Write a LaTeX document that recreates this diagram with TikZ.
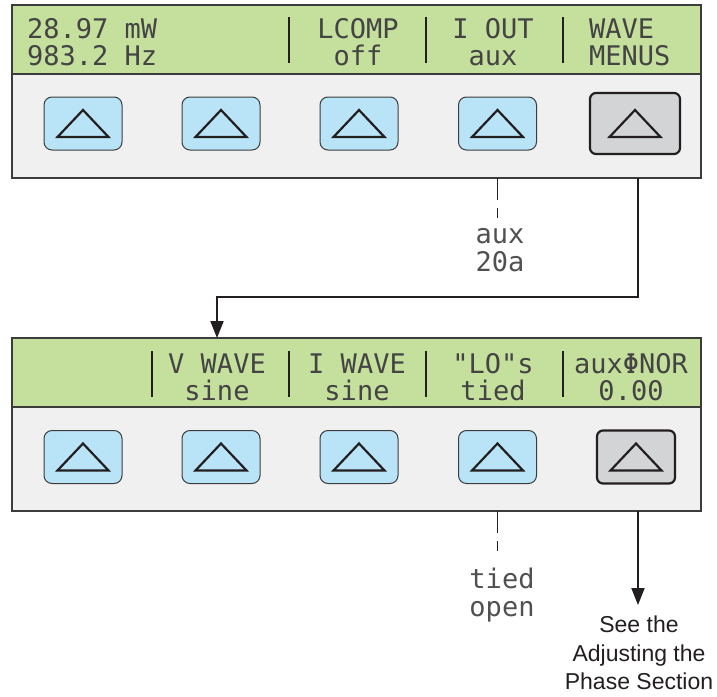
\documentclass[tikz,border=0pt]{standalone}
\usepackage{fontspec}
\newfontfamily\lcdfont{DejaVu Sans Mono}
\newfontfamily\labelfont{Liberation Sans}
\usetikzlibrary{arrows.meta,calc}
\definecolor{lcdgreen}{HTML}{C5DF9C}
\definecolor{panelbg}{HTML}{F0F0F0}
\definecolor{keyblue}{HTML}{B9E4F8}
\definecolor{keygray}{HTML}{D3D4D6}
\definecolor{edge}{HTML}{3C3C3C}
\definecolor{ink}{HTML}{231F20}
\definecolor{lcdink}{HTML}{444444}
\definecolor{subink}{HTML}{505050}
\begin{document}
\begin{tikzpicture}[x=1pt,y=-1pt,line join=miter,
  panel/.style={draw=edge,line width=1.6pt,fill=panelbg,minimum width=689pt,minimum height=173pt,inner sep=0pt,outer sep=0pt,anchor=north west},
  lcd/.style={draw=edge,line width=1.6pt,fill=lcdgreen,minimum width=689pt,minimum height=69pt,inner sep=0pt,outer sep=0pt,anchor=north west},
  key/.style={draw=edge,line width=1pt,fill=keyblue,rounded corners=8pt,minimum width=78pt,minimum height=53pt,inner sep=0pt},
  selkey/.style={key,fill=keygray,draw=ink,line width=2.2pt,rounded corners=6pt},
  tri/.style={draw=ink,line width=2.2pt},
  divider/.style={draw=ink,line width=2.6pt},
  lcdtxt/.style={font=\lcdfont\fontsize{27}{29}\selectfont,text=lcdink,inner sep=0pt,anchor=base},
  subtxt/.style={lcdtxt,text=subink},
  conn/.style={draw=ink,line width=2pt},
  dashconn/.style={draw=ink,line width=1.3pt,dash pattern=on 22pt off 8pt on 10pt off 40pt},
  tip/.style={-{Triangle[length=17pt,width=13pt]}}
]
\useasboundingbox (0,0) rectangle (717,696);

% ---------- upper panel ----------
\node[panel] (p1) at (12,5) {};
\node[lcd] (l1) at (12,5) {};
\draw[divider] (289,17) -- (289,63);
\draw[divider] (426,17) -- (426,63);
\draw[divider] (563,17) -- (563,63);
\node[lcdtxt,anchor=base west] (u1a) at (27,38) {28.97 mW};
\node[lcdtxt,anchor=base west] (u1b) at (27,65.5) {983.2 Hz};
\node[lcdtxt] (u3a) at (358,38) {LCOMP};
\node[lcdtxt] (u3b) at (358,65.5) {off};
\node[lcdtxt] (u4a) at (493,38) {I OUT};
\node[lcdtxt] (u4b) at (493,65.5) {aux};
\node[lcdtxt,anchor=base west] (u5a) at (589,38) {WAVE};
\node[lcdtxt,anchor=base west] (u5b) at (589,65.5) {MENUS};

\node[key] (a1) at (83,123.5) {};
\node[key] (a2) at (221,123.5) {};
\node[key] (a3) at (359,123.5) {};
\node[key] (a4) at (497.5,123.5) {};
\node[selkey,minimum width=90pt,minimum height=61pt] (a5) at (635,123.5) {};

% ---------- lower panel ----------
\node[panel] (p2) at (12,338) {};
\node[lcd] (l2) at (12,338) {};
\draw[divider] (152,351) -- (152,397);
\draw[divider] (289,351) -- (289,397);
\draw[divider] (426,351) -- (426,397);
\draw[divider] (563,351) -- (563,397);
\node[lcdtxt] (d2a) at (217,373) {V WAVE};
\node[lcdtxt] (d2b) at (217,400) {sine};
\node[lcdtxt] (d3a) at (357,373) {I WAVE};
\node[lcdtxt] (d3b) at (357,400) {sine};
\node[lcdtxt] (d4a) at (493,373) {"LO"s};
\node[lcdtxt] (d4b) at (493,400) {tied};
\node[lcdtxt] (d5a) at (631,373) {auxΦNOR};
\node[lcdtxt] (d5b) at (631,400) {0.00};

\node[key] (b1) at (83,457) {};
\node[key] (b2) at (221,457) {};
\node[key] (b3) at (359,457) {};
\node[key] (b4) at (497.5,457) {};
\node[selkey] (b5) at (636,457) {};

% triangles on keys
\foreach \k in {a1,a2,a3,a4,a5,b1,b2,b3,b4,b5}{
  \draw[tri] ($(\k.center)+(0,-13.5)$) -- ($(\k.center)+(25.5,13.5)$) -- ($(\k.center)+(-25.5,13.5)$) -- cycle;
}

% ---------- labels below keys ----------
\node[subtxt] (x1) at (500,243) {aux};
\node[subtxt] (x2) at (500,271) {20a};
\node[subtxt] (y1) at (502,588) {tied};
\node[subtxt] (y2) at (502,616) {open};
\draw[dashconn] (p1.south -| a4.center) -- ++(0,40);
\draw[dashconn] (p2.south -| b4.center) -- ++(0,42);

% ---------- connectors ----------
\coordinate (entry) at ($(p2.north west)+(205,0)$);
\draw[conn,tip] ([xshift=3pt]p1.south -| a5.center) |- (0,297 -| entry) -- (entry);
\node[font=\labelfont\fontsize{23}{28.5}\selectfont,text=ink,align=center,inner sep=0pt,anchor=north] (see) at (639,616) {See the\\Adjusting the\\Phase Section};
\draw[conn,tip] ([xshift=2pt]p2.south -| b5.center) -- ([xshift=2pt]b5.center |- 0,605);
\end{tikzpicture}
\end{document}
